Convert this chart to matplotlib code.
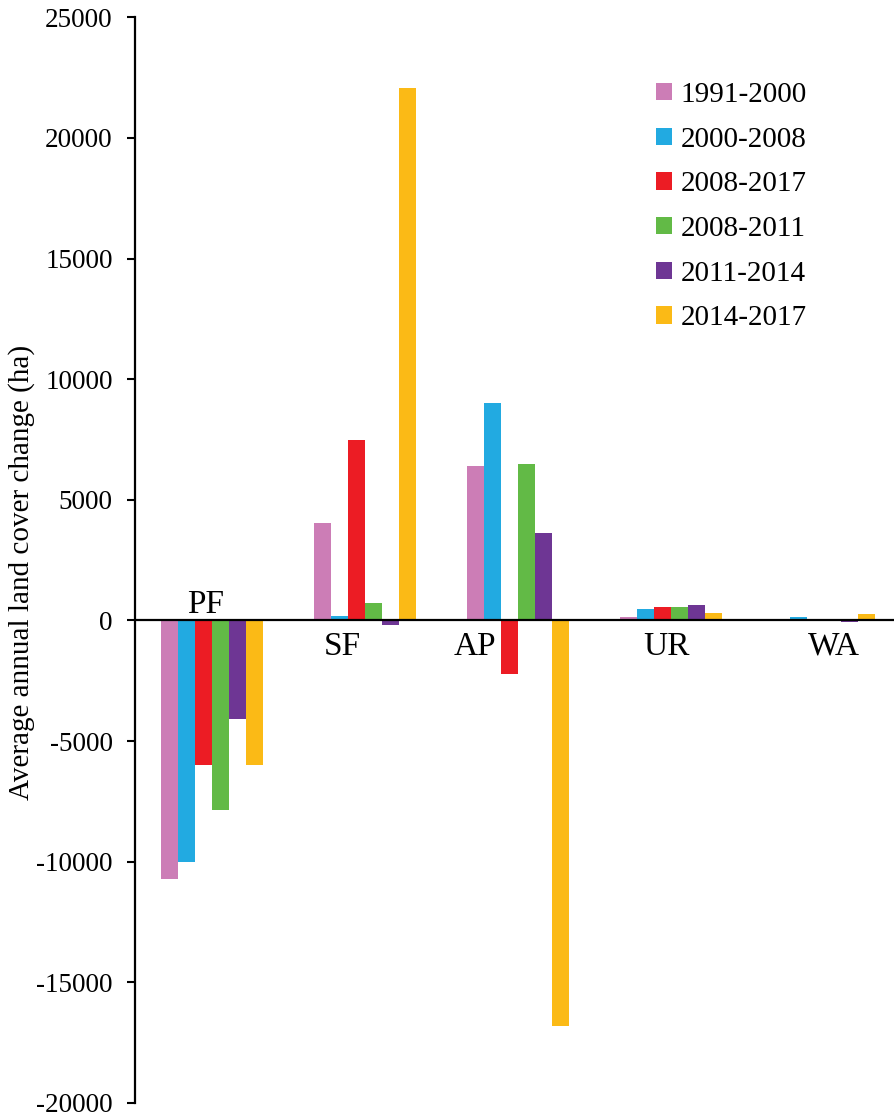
import numpy as np
import matplotlib
matplotlib.use('Agg')
import matplotlib.pyplot as plt

# ── dados (ha/ano) ──
categorias = ['PF', 'SF', 'AP', 'UR', 'WA']
periodos = ['1991-2000', '2000-2008', '2008-2017', '2008-2011', '2011-2014', '2014-2017']
v_1991_2000 = [-10700, 4050, 6400, 150, 0]
v_2000_2008 = [-10000, 200, 9000, 490, 150]
v_2008_2017 = [-6000, 7500, -2200, 540, 80]
v_2008_2011 = [-7850, 720, 6500, 540, 0]
v_2011_2014 = [-4100, -200, 3630, 660, -80]
v_2014_2017 = [-6000, 22050, -16800, 320, 280]
series = [v_1991_2000, v_2000_2008, v_2008_2017, v_2008_2011, v_2011_2014, v_2014_2017]

cores = ['#CC7DB6', '#22AAE1', '#EC1C24', '#62BA46', '#6E3694', '#FBBA16']

plt.rcParams['font.family'] = ['Liberation Serif', 'DejaVu Serif']
plt.rcParams['axes.unicode_minus'] = False

fig = plt.figure(figsize=(8.95, 11.14), dpi=100)
ax = fig.add_axes([135 / 895, 1 - 1103 / 1114, 766 / 895, (1103 - 17.3) / 1114])

x = np.arange(len(categorias))
largura = 0.111
for i, (vals, cor, rot) in enumerate(zip(series, cores, periodos)):
    ax.bar(x + (i - 2.5) * largura, vals, width=largura, color=cor, label=rot, zorder=2)

ax.axhline(0, color='black', lw=1.6, zorder=3)

ax.set_xlim(-0.5, 4.5)
ax.set_ylim(-20000, 25000)
ax.set_yticks(np.arange(-20000, 25001, 5000))
ax.tick_params(axis='y', direction='out', length=6, width=1.5, labelsize=19.5, pad=10)
ax.set_xticks([])
for s in ['top', 'right', 'bottom']:
    ax.spines[s].set_visible(False)
ax.spines['left'].set_linewidth(1.6)

ax.set_ylabel('Average annual land cover change (ha)', fontsize=21)
ax.yaxis.set_label_coords(-0.131, 0.489)

# rótulos das categorias junto ao eixo zero
desloc = [-0.04, -0.15, -0.28, -0.03, 0.06]
for xi, nome, d in zip(x, categorias, desloc):
    if nome == 'PF':
        ax.text(xi + d, 330, nome, ha='center', va='baseline', fontsize=24)
    else:
        ax.text(xi + d, -450, nome, ha='center', va='top', fontsize=24)

ax.legend(loc='upper left', bbox_to_anchor=(656 / 895, 1 - 82 / 1114),
          bbox_transform=fig.transFigure, frameon=False, fontsize=21,
          handlelength=0.55, handleheight=0.55, handletextpad=0.3,
          labelspacing=0.64, borderpad=0, borderaxespad=0)

plt.savefig('out.png', dpi=100)
